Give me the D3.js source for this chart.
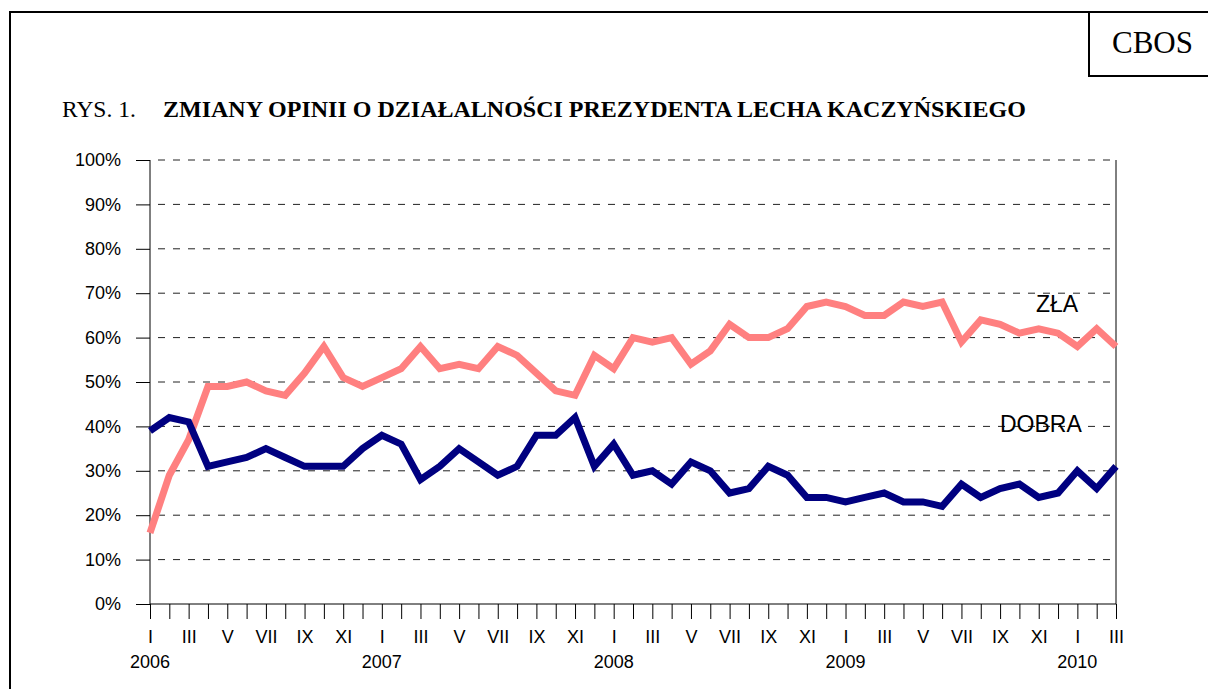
<html>
<head>
  <meta charset="utf-8">
  <title>Zmiany opinii</title>
  <script src="https://d3js.org/d3.v7.min.js"></script>
  <style>
  body{ margin:0; background:white; }
  .axis text{ font-family:"Liberation Sans", Arial, sans-serif; font-size:18px; fill:black; }
  .axis path{ stroke:black; }
  .axis line{ stroke:black; }
  .grid{ stroke:#222; stroke-dasharray:7,8; fill:none; }
  .series{ fill:none; stroke-width:7px; stroke-linejoin:miter; }
</style>
</head>
<body>
  <svg id="chart" width="1208" height="689"></svg>
  <script>
// months I 2006 .. III 2010
const romans = ["I","II","III","IV","V","VI","VII","VIII","IX","X","XI","XII"];
const years = [2006, 2007, 2008, 2009, 2010];
const months = [];
years.forEach(function(y){
  romans.forEach(function(r, i){
    if (y < 2010 || i < 3) months.push({year: y, m: i, label: r});
  });
});

// opinion "zła" (bad), percent
const zla = [16,29,37,49,49,50,48,47,52,58,51,49,51,53,58,53,54,
             53,58,56,52,48,47,56,53,60,59,60,54,57,63,60,60,62,
             67,68,67,65,65,68,67,68,59,64,63,61,62,61,58,62,58];
// opinion "dobra" (good), percent
const dobra = [39,42,41,31,32,33,35,33,31,31,31,35,38,36,28,31,35,
               32,29,31,38,38,42,31,36,29,30,27,32,30,25,26,31,29,
               24,24,23,24,25,23,23,22,27,24,26,27,24,25,30,26,31];
const yTicks = [0,10,20,30,40,50,60,70,80,90,100];

const svg = d3.select("#chart");

// frame
svg.append("path")
  .attr("d", "M10,700 L10,12 L1220,12")
  .attr("fill","none").attr("stroke","black").attr("stroke-width",2);
svg.append("rect")
  .attr("x",1089).attr("y",12).attr("width",200).attr("height",64)
  .attr("fill","none").attr("stroke","black").attr("stroke-width",2);
svg.append("text").attr("x",1112).attr("y",53)
  .style("font-family","'Liberation Serif', 'Times New Roman', serif")
  .style("font-size","31px").text("CBOS");

svg.append("text").attr("x",62).attr("y",117)
  .style("font-family","'Liberation Serif', 'Times New Roman', serif")
  .style("font-size","23.5px").text("RYS. 1.");
svg.append("text").attr("x",163).attr("y",117)
  .style("font-family","'Liberation Serif', 'Times New Roman', serif")
  .style("font-size","24px").style("font-weight","bold")
  .text("ZMIANY OPINII O DZIAŁALNOŚCI PREZYDENTA LECHA KACZYŃSKIEGO");

const x = d3.scaleLinear().domain([0, months.length - 1]).range([150, 1116]);
const y = d3.scaleLinear().domain([0, 100]).range([604, 160]);

// gridlines
svg.append("g").selectAll("line").data(yTicks.filter(d => d > 0)).enter()
  .append("line").attr("class","grid")
  .attr("x1", x(0) + 8).attr("x2", x(months.length - 1))
  .attr("y1", d => y(d)).attr("y2", d => y(d));

// right border
svg.append("line").attr("x1",x(months.length-1)).attr("x2",x(months.length-1))
  .attr("y1",y(100)).attr("y2",y(0)).attr("stroke","black");

const yAxis = d3.axisLeft(y).tickValues(yTicks).tickSize(14).tickPadding(15)
  .tickFormat(d => d + "%");
svg.append("g").attr("class","axis").attr("transform","translate(150,0)")
  .call(yAxis)
  .call(g => g.select(".domain").attr("d","M0," + y(100) + "V" + y(0)));

const xAxis = d3.axisBottom(x).tickValues(d3.range(months.length)).tickSize(15).tickPadding(11)
  .tickFormat(i => months[i].m % 2 === 0 ? months[i].label : "");
svg.append("g").attr("class","axis").attr("transform","translate(0,604)")
  .call(xAxis)
  .call(g => g.select(".domain").attr("d","M" + x(0) + ",0H" + x(months.length-1)));

// year labels under January
svg.append("g").selectAll("text")
  .data(d3.range(months.length).filter(i => months[i].m === 0)).enter()
  .append("text")
  .attr("x", i => x(i)).attr("y", 668)
  .attr("text-anchor","middle")
  .style("font-family","'Liberation Sans', Arial, sans-serif").style("font-size","18px")
  .text(i => months[i].year);

const line = d3.line().x((d, i) => x(i)).y(d => y(d));
svg.append("path").datum(zla).attr("class","series").attr("stroke","#FF8080").attr("d", line);
svg.append("path").datum(dobra).attr("class","series").attr("stroke","#000080").attr("d", line);

svg.append("text").attr("x",1036).attr("y",312)
  .style("font-family","'Liberation Sans', Arial, sans-serif").style("font-size","23px")
  .text("ZŁA");
svg.append("text").attr("x",1000).attr("y",432)
  .style("font-family","'Liberation Sans', Arial, sans-serif").style("font-size","23px")
  .text("DOBRA");
    </script>
    </body>
    </html>
